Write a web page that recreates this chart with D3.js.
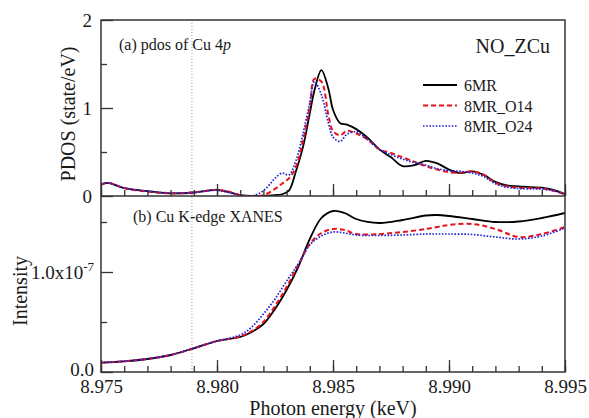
<!DOCTYPE html>
<html lang="en">
<head>
<meta charset="utf-8">
<title>NO_ZCu pdos and XANES</title>
<script src="https://cdn.jsdelivr.net/npm/d3@7"></script>
<style>
  body { margin: 0; background: #fff; }
  svg text { font-family: "Liberation Serif", "Times New Roman", serif; fill: #1a1a1a; }
</style>
</head>
<body>
<script>
// ---- data ----
// (a) pdos of Cu 4p, state/eV
var pdosEnergy = [8.9750, 8.9753, 8.9760, 8.9770, 8.9780, 8.9790, 8.9800, 8.9805, 8.9810, 8.9815,
                  8.9820, 8.9825, 8.9828, 8.9831, 8.9834, 8.9837, 8.9840, 8.9842, 8.9845, 8.9848,
                  8.9850, 8.9853, 8.9856, 8.9860, 8.9865, 8.9870, 8.9875, 8.9880, 8.9885, 8.9890,
                  8.9895, 8.9900, 8.9905, 8.9910, 8.9915, 8.9920, 8.9925, 8.9930, 8.9935, 8.9940,
                  8.9945, 8.9950];
var pdos6MR  = [0.13, 0.15, 0.09, 0.055, 0.03, 0.04, 0.07, 0.045, 0.01, 0.0,
                0.0, 0.01, 0.02, 0.06, 0.28, 0.55, 0.94, 1.20, 1.43, 1.22,
                0.98, 0.83, 0.81, 0.76, 0.66, 0.53, 0.44, 0.34, 0.35, 0.40,
                0.37, 0.30, 0.26, 0.28, 0.24, 0.16, 0.12, 0.11, 0.10, 0.095,
                0.07, 0.02];
var pdosO14  = [0.13, 0.15, 0.09, 0.05, 0.03, 0.04, 0.07, 0.05, 0.01, 0.0,
                0.01, 0.08, 0.14, 0.20, 0.33, 0.62, 1.01, 1.33, 1.30, 0.92,
                0.74, 0.69, 0.74, 0.71, 0.64, 0.53, 0.49, 0.44, 0.39, 0.34,
                0.30, 0.27, 0.265, 0.28, 0.24, 0.15, 0.11, 0.095, 0.09, 0.085,
                0.06, 0.02];
var pdosO24  = [0.14, 0.15, 0.09, 0.055, 0.035, 0.04, 0.065, 0.04, 0.01, 0.0,
                0.06, 0.20, 0.26, 0.24, 0.40, 0.70, 1.06, 1.30, 1.15, 0.83,
                0.67, 0.62, 0.70, 0.73, 0.64, 0.53, 0.47, 0.42, 0.38, 0.35,
                0.31, 0.29, 0.28, 0.26, 0.22, 0.14, 0.10, 0.085, 0.08, 0.08,
                0.06, 0.02];

// (b) Cu K-edge XANES, intensity in units of 1e-7
var xanesEnergy = [8.975, 8.976, 8.977, 8.978, 8.979, 8.980, 8.981, 8.9815, 8.982, 8.9825,
                   8.983, 8.9835, 8.984, 8.9845, 8.985, 8.9855, 8.986, 8.987, 8.988, 8.989,
                   8.9895, 8.990, 8.991, 8.992, 8.993, 8.994, 8.995];
var xanes6MR = [0.093, 0.107, 0.13, 0.17, 0.237, 0.31, 0.35, 0.40, 0.48, 0.63,
                0.82, 1.05, 1.33, 1.54, 1.61, 1.59, 1.53, 1.49, 1.52, 1.565,
                1.57, 1.56, 1.53, 1.50, 1.505, 1.54, 1.59];
var xanesO14 = [0.093, 0.107, 0.13, 0.17, 0.237, 0.31, 0.355, 0.41, 0.50, 0.66,
                0.85, 1.07, 1.28, 1.39, 1.43, 1.42, 1.38, 1.38, 1.40, 1.43,
                1.45, 1.47, 1.48, 1.43, 1.35, 1.38, 1.45];
var xanesO24 = [0.095, 0.108, 0.13, 0.17, 0.24, 0.31, 0.37, 0.45, 0.58, 0.73,
                0.91, 1.08, 1.27, 1.36, 1.40, 1.39, 1.37, 1.365, 1.37, 1.38,
                1.38, 1.38, 1.375, 1.35, 1.33, 1.36, 1.44];

var seriesNames = ["6MR", "8MR_O14", "8MR_O24"];
var fermiEnergy = 8.97892;
var xMajorTicks = [8.975, 8.980, 8.985, 8.990, 8.995];
var pdosMajorTicks = [0, 1, 2];
var pdosMinorTicks = [0.5, 1.5];
var xanesMajorTicks = [0, 1];
var xanesMinorTicks = [0.5, 1.5];

// ---- layout ----
var width = 589, height = 418;
var left = 101, right = 565, plotTop = 20, mid = 196, bottom = 372;
var frameColor = "#333";

var styles = [
  {color: "#000", dash: null, width: 1.8},
  {color: "#e8121c", dash: "5,3", width: 2},
  {color: "#2222d8", dash: "1.6,1.6", width: 1.7}
];

var svg = d3.select("body").append("svg")
  .attr("width", width)
  .attr("height", height);

var x = d3.scaleLinear().domain([8.975, 8.995]).range([left, right]);
var yTop = d3.scaleLinear().domain([0, 2]).range([mid, plotTop]);
var yBot = d3.scaleLinear().domain([0, 1.76]).range([bottom, mid]);

var xMinorTicks = d3.range(0, 21).map(function(i) { return 8.975 + i * 0.001; });

// clip areas
var defs = svg.append("defs");
defs.append("clipPath").attr("id", "clipTop").append("rect")
  .attr("x", left).attr("y", plotTop).attr("width", right - left).attr("height", mid - plotTop);
defs.append("clipPath").attr("id", "clipBot").append("rect")
  .attr("x", left).attr("y", mid).attr("width", right - left).attr("height", bottom - mid);

// fermi level line (dotted gray)
svg.append("line")
  .attr("x1", x(fermiEnergy)).attr("x2", x(fermiEnergy))
  .attr("y1", plotTop).attr("y2", bottom)
  .attr("stroke", "#9a9a9a")
  .attr("stroke-width", 1)
  .attr("stroke-dasharray", "1,2");

function drawLines(g, energies, seriesList, yScale) {
  var line = d3.line()
    .x(function(d) { return x(d[0]); })
    .y(function(d) { return yScale(d[1]); })
    .curve(d3.curveCatmullRom.alpha(0.5));
  seriesList.forEach(function(vals, i) {
    var pts = energies.map(function(e, j) { return [e, vals[j]]; });
    g.append("path")
      .datum(pts)
      .attr("d", line)
      .attr("fill", "none")
      .attr("stroke", styles[i].color)
      .attr("stroke-width", styles[i].width)
      .attr("stroke-dasharray", styles[i].dash);
  });
}

var gTop = svg.append("g").attr("clip-path", "url(#clipTop)");
drawLines(gTop, pdosEnergy, [pdos6MR, pdosO14, pdosO24], yTop);

var gBot = svg.append("g").attr("clip-path", "url(#clipBot)");
drawLines(gBot, xanesEnergy, [xanes6MR, xanesO14, xanesO24], yBot);

// ---- axes ----
function styleAxis(g) {
  g.select(".domain").remove();
  g.attr("font-family", null);
  g.selectAll(".tick line").attr("stroke", frameColor).attr("stroke-width", 1.3);
  g.selectAll(".tick text").attr("font-size", 19).attr("fill", "#1a1a1a");
}

// top panel x ticks (no labels)
svg.append("g").attr("transform", "translate(0," + mid + ")")
  .call(d3.axisBottom(x).tickValues(xMinorTicks).tickSize(-6).tickFormat(""))
  .call(styleAxis);
svg.append("g").attr("transform", "translate(0," + mid + ")")
  .call(d3.axisBottom(x).tickValues(xMajorTicks).tickSize(-12).tickFormat(""))
  .call(styleAxis);

// bottom panel x ticks
svg.append("g").attr("transform", "translate(0," + bottom + ")")
  .call(d3.axisBottom(x).tickValues(xMinorTicks).tickSize(-6).tickFormat(""))
  .call(styleAxis);
svg.append("g").attr("transform", "translate(0," + bottom + ")")
  .call(d3.axisBottom(x).tickValues(xMajorTicks).tickSize(-12).tickPadding(8)
        .tickFormat(d3.format(".3f")))
  .call(styleAxis);

// top panel y
svg.append("g").attr("transform", "translate(" + left + ",0)")
  .call(d3.axisLeft(yTop).tickValues(pdosMinorTicks).tickSize(-6).tickFormat(""))
  .call(styleAxis);
svg.append("g").attr("transform", "translate(" + left + ",0)")
  .call(d3.axisLeft(yTop).tickValues(pdosMajorTicks).tickSize(-12).tickPadding(9)
        .tickFormat(d3.format("d")))
  .call(styleAxis);

// bottom panel y
svg.append("g").attr("transform", "translate(" + left + ",0)")
  .call(d3.axisLeft(yBot).tickValues(xanesMinorTicks).tickSize(-6).tickFormat(""))
  .call(styleAxis);
var yBotAxis = svg.append("g").attr("transform", "translate(" + left + ",0)")
  .call(d3.axisLeft(yBot).tickValues(xanesMajorTicks).tickSize(-12).tickPadding(7)
        .tickFormat(d3.format(".1f")))
  .call(styleAxis);
yBotAxis.selectAll(".tick text").filter(function(d) { return d === 1; })
  .text("1.0x10")
  .append("tspan").attr("dy", -8).attr("font-size", 13).text("-7");
// lift "0.0" a little so it clears the 8.975 label
yBotAxis.selectAll(".tick text").filter(function(d) { return d === 0; })
  .attr("y", -3);

// frames
svg.append("rect")
  .attr("x", left).attr("y", plotTop).attr("width", right - left).attr("height", bottom - plotTop)
  .attr("fill", "none").attr("stroke", frameColor).attr("stroke-width", 1.5);
svg.append("line")
  .attr("x1", left).attr("x2", right).attr("y1", mid).attr("y2", mid)
  .attr("stroke", frameColor).attr("stroke-width", 1.5);

// ---- labels ----
svg.append("text")
  .attr("transform", "translate(75," + ((plotTop + mid) / 2 + 6) + ") rotate(-90)")
  .attr("text-anchor", "middle").attr("font-size", 20)
  .text("PDOS (state/eV)");
svg.append("text")
  .attr("transform", "translate(27," + ((mid + bottom) / 2 + 7) + ") rotate(-90)")
  .attr("text-anchor", "middle").attr("font-size", 20)
  .text("Intensity");
svg.append("text")
  .attr("x", (left + right) / 2).attr("y", 415)
  .attr("text-anchor", "middle").attr("font-size", 20)
  .text("Photon energy (keV)");

var labA = svg.append("text").attr("x", 119).attr("y", 50).attr("font-size", 16);
labA.append("tspan").text("(a) pdos of Cu 4");
labA.append("tspan").attr("font-style", "italic").text("p");

svg.append("text").attr("x", 133).attr("y", 222).attr("font-size", 16)
  .text("(b) Cu K-edge XANES");

svg.append("text").attr("x", 550).attr("y", 53).attr("text-anchor", "end")
  .attr("font-size", 20).text("NO_ZCu");

// legend
var legend = svg.append("g").attr("transform", "translate(423,85)");
seriesNames.forEach(function(name, i) {
  var row = legend.append("g").attr("transform", "translate(0," + (i * 20.5) + ")");
  row.append("line")
    .attr("x1", 0).attr("x2", 34).attr("y1", 0).attr("y2", 0)
    .attr("stroke", styles[i].color)
    .attr("stroke-width", styles[i].width)
    .attr("stroke-dasharray", styles[i].dash);
  row.append("text").attr("x", 41).attr("y", 6).attr("font-size", 16).text(name);
});
</script>
</body>
</html>
